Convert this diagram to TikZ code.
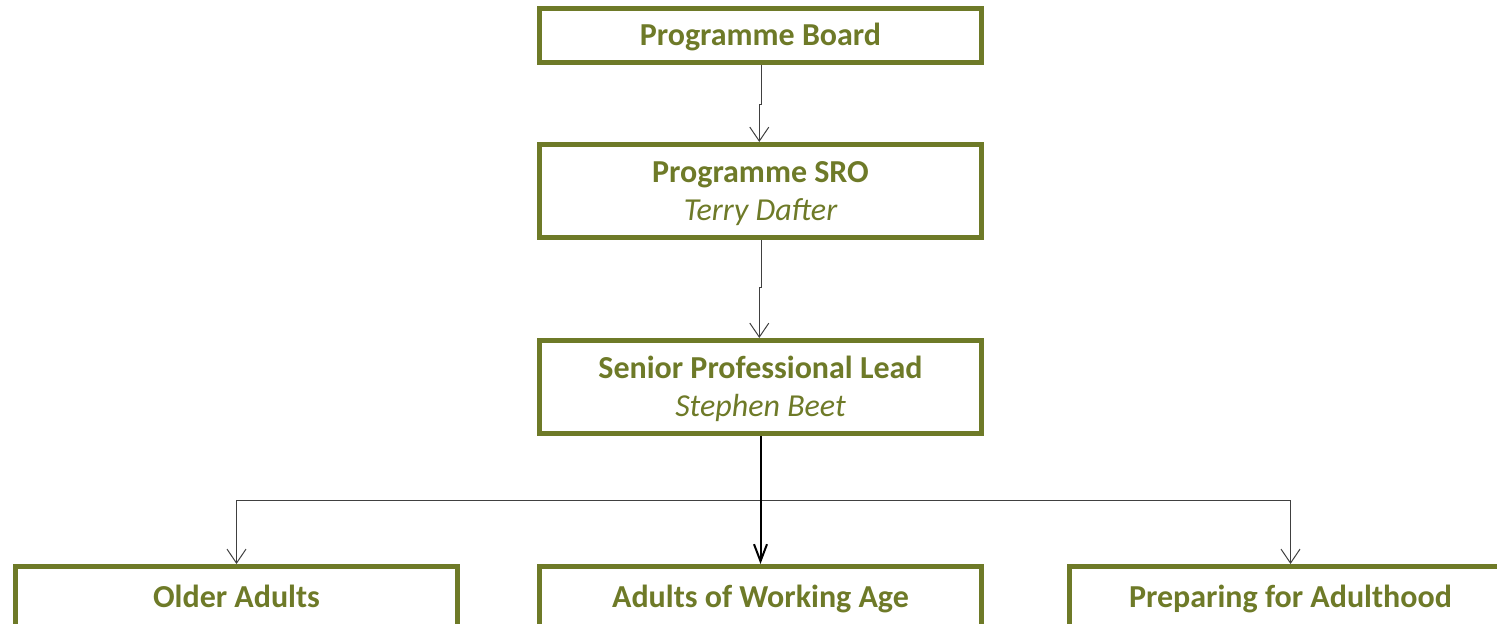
\documentclass[tikz,border=0pt]{standalone}
\usepackage{fontspec}
\setmainfont{Carlito}
\usetikzlibrary{positioning, arrows.meta}
\definecolor{olive}{RGB}{110,122,40}
\tikzset{>={Straight Barb[length=7pt,width=9.5pt]},
  box/.style = {draw=olive, line width=2.5pt, minimum width=221pt, minimum height=27pt,
                inner sep=0pt, text=olive, align=center, text height=13.4pt, text depth=3pt,
                font=\fontsize{16pt}{19.2pt}\selectfont\bfseries},
  tallbox/.style = {box, minimum height=46.5pt, text height=32.6pt, text depth=3pt},
  link/.style = {->, draw=black!75, line width=0.5pt},
  mainlink/.style = {-{Straight Barb[length=8.5pt,width=6.5pt,line width=1pt]}, draw=black, line width=1pt}}

\begin{document}
\begin{tikzpicture}
    \path[use as bounding box, clip] (0,0) rectangle (748.5pt,-312pt);
    \node[box] (board) at (380.25pt,-17.75pt) {Programme Board};
    \node[tallbox, below=38.5pt of board] (sro) {Programme SRO\\\mdseries\itshape Terry Dafter};
    \node[tallbox, below=49pt of sro] (spl) {Senior Professional Lead\\\mdseries\itshape Stephen Beet};
    \node[box, minimum height=31pt, below=64pt of spl] (working) {Adults of Working Age};
    \node[box, minimum height=31pt, left=38.5pt of working] (older) {Older Adults};
    \node[box, minimum height=31pt, right=41.5pt of working] (adulthood) {Preparing for Adulthood};
    \draw[link] ([xshift=0.6pt]board.south) -- ++(0,-20pt) -| ([xshift=-0.6pt]sro.north);
    \draw[link] ([xshift=0.6pt]sro.south) -- ++(0,-24pt) -| ([xshift=-0.6pt]spl.north);
    \draw[link] (spl.south) -- ++(0,-32pt) -| (older.north);
    \draw[link] (spl.south) -- ++(0,-32pt) -| (adulthood.north);
    \draw[mainlink] (spl) -- (working);
\end{tikzpicture}
\end{document}
